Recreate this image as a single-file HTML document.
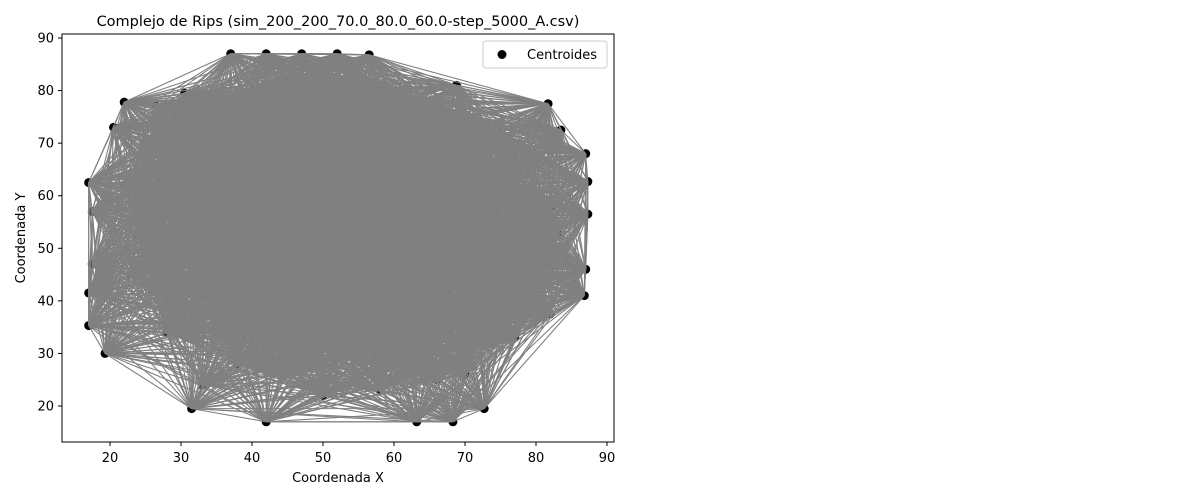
<!DOCTYPE html>
<html><head><meta charset="utf-8"><style>
body{margin:0;background:#fff;}
svg{display:block;font-family:"DejaVu Sans","Liberation Sans",sans-serif;}
</style></head><body>
<svg id="chart" width="1200" height="500">
<rect x="0" y="0" width="1200" height="500" fill="#fff"/>
<text x="338" y="26" font-size="14.5" text-anchor="middle">Complejo de Rips (sim_200_200_70.0_80.0_60.0-step_5000_A.csv)</text>
<g id="points"></g>
<g id="edges"></g>
<rect x="62" y="34" width="552" height="408" fill="none" stroke="#000" stroke-width="1"/>
<g id="xticks"></g>
<g id="yticks"></g>
<text x="338" y="482" font-size="13" text-anchor="middle">Coordenada X</text>
<text transform="translate(25,238) rotate(-90)" font-size="13" text-anchor="middle">Coordenada Y</text>
<g>
<rect x="483" y="41" width="124" height="27" rx="3" fill="#fff" fill-opacity="0.8" stroke="#ccc"/>
<circle cx="502" cy="54.5" r="4.5" fill="#000"/>
<text x="527" y="59" font-size="13">Centroides</text>
</g>
</svg>
<script>
const xs=[37,42,47,52,56.5,22,81.7,20.5,87,87.3,87.3,17,17,17,19.3,31.5,42,63.2,68.3,72.7,87,86.8,68.8,83.5,82,74,30.5,26.5,17.5,17.5,50,44,
25,30,35,40,45,50,55,60,65,70,75,80,
22,28,34,40,46,52,58,64,70,76,82,
24,30,36,42,48,54,60,66,72,78,84,
26,32,38,44,50,56,62,68,74,80,
28,35,42,49,56,63,70,77,
38,46,54,62,70,
33,58,66,45,
27,37,47,57,67,77,
31,41,51,61,71,
23,33,43,53,63,73,83,
29,39,49,59,69,79];
const ys=[87,87,87,87,86.8,77.8,77.5,73,68,62.7,56.5,62.5,41.5,35.3,30,19.5,17,17,17,19.5,46,41,81,72.5,37.5,32,79.5,77,47,57,22,26,
70,74,78,80,82,83,82,80,78,75,72,68,
62,65,68,72,74,75,73,70,66,62,58,
52,55,58,60,62,63,61,58,54,50,48,
42,44,46,48,50,51,49,46,44,42,
34,36,38,40,41,39,36,33,
28,30,31,29,26,
24,23,25,56,
73,77,79,78,75,70,
67,69,70,68,64,
45,50,53,55,55,52,53,
36,34,33,34,36,38];
const xTicks=[20,30,40,50,60,70,80,90];
const yTicks=[20,30,40,50,60,70,80,90];
const radius=[50];
const X=v=>110+(v-20)*7.1;
const Y=v=>406-(v-20)*5.257;
const NS="http://www.w3.org/2000/svg";
const eg=document.getElementById('edges');
for(let i=0;i<xs.length;i++)for(let j=i+1;j<xs.length;j++){
  const d=Math.hypot(xs[i]-xs[j],ys[i]-ys[j]);
  if(d<=radius[0]){
    const l=document.createElementNS(NS,'line');
    l.setAttribute('x1',X(xs[i]));l.setAttribute('y1',Y(ys[i]));
    l.setAttribute('x2',X(xs[j]));l.setAttribute('y2',Y(ys[j]));
    l.setAttribute('stroke','#808080');l.setAttribute('stroke-width','1.1');
    
    
    eg.appendChild(l);
  }
}
const pg=document.getElementById('points');
for(let i=0;i<xs.length;i++){
  const c=document.createElementNS(NS,'circle');
  c.setAttribute('cx',X(xs[i]));c.setAttribute('cy',Y(ys[i]));c.setAttribute('r','4.5');c.setAttribute('fill','#000');
  
  
  pg.appendChild(c);
}
const xg=document.getElementById('xticks');
xTicks.forEach(t=>{
  const l=document.createElementNS(NS,'line');
  l.setAttribute('x1',X(t));l.setAttribute('x2',X(t));l.setAttribute('y1',442);l.setAttribute('y2',446);l.setAttribute('stroke','#000');
  
  
  xg.appendChild(l);
  const tx=document.createElementNS(NS,'text');
  tx.setAttribute('x',X(t));tx.setAttribute('y',462);tx.setAttribute('font-size','13');tx.setAttribute('text-anchor','middle');
  tx.textContent=t;
  
  
  xg.appendChild(tx);
});
const yg=document.getElementById('yticks');
yTicks.forEach(t=>{
  const l=document.createElementNS(NS,'line');
  l.setAttribute('x1',58);l.setAttribute('x2',62);l.setAttribute('y1',Y(t));l.setAttribute('y2',Y(t));l.setAttribute('stroke','#000');
  
  
  yg.appendChild(l);
  const tx=document.createElementNS(NS,'text');
  tx.setAttribute('x',54);tx.setAttribute('y',Y(t)+4.5);tx.setAttribute('font-size','13');tx.setAttribute('text-anchor','end');
  tx.textContent=t;
  
  
  yg.appendChild(tx);
});
</script>
</body></html>
